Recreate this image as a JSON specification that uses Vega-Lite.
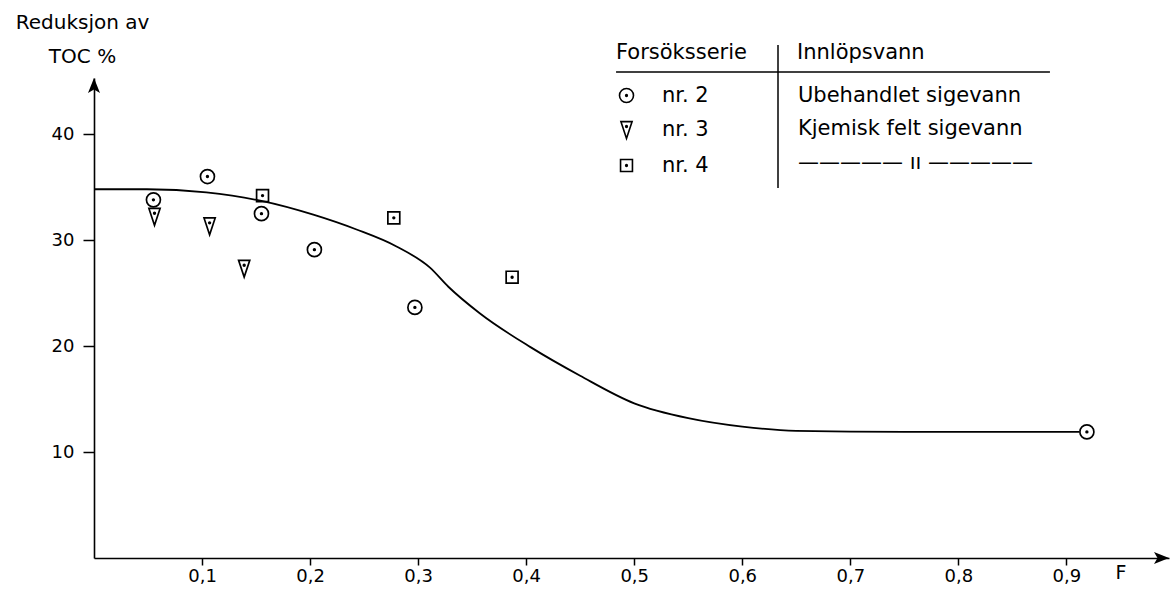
{
  "$schema": "https://vega.github.io/schema/vega-lite/v6.json",
  "width": 1075,
  "height": 480,
  "autosize": {"type": "none"},
  "padding": {"left": 94, "top": 78, "right": 3, "bottom": 36},
  "background": "white",
  "config": {
    "view": {"stroke": null},
    "font": "DejaVu Sans",
    "axis": {
      "domainColor": "black", "domainWidth": 1.6,
      "tickColor": "black", "tickWidth": 1.5,
      "labelColor": "black", "labelFont": "DejaVu Sans", "labelFontSize": 18,
      "grid": false,
      "titleColor": "black", "titleFont": "DejaVu Sans", "titleFontWeight": "normal"
    },
    "legend": {
      "orient": "none",
      "labelFont": "DejaVu Sans", "labelFontSize": 21, "labelColor": "black", "labelLimit": 0,
      "titleFont": "DejaVu Sans", "titleFontSize": 21, "titleFontWeight": "normal", "titleColor": "black",
      "titleLimit": 0,
      "rowPadding": 11.5, "titlePadding": 22, "padding": 0
    }
  },
  "datasets": {
    "points": [
      {"F": 0.055, "TOC": 33.8, "serie": "nr. 2", "innlop": "Ubehandlet sigevann"},
      {"F": 0.105, "TOC": 36.0, "serie": "nr. 2", "innlop": "Ubehandlet sigevann"},
      {"F": 0.155, "TOC": 32.5, "serie": "nr. 2", "innlop": "Ubehandlet sigevann"},
      {"F": 0.204, "TOC": 29.1, "serie": "nr. 2", "innlop": "Ubehandlet sigevann"},
      {"F": 0.297, "TOC": 23.65, "serie": "nr. 2", "innlop": "Ubehandlet sigevann"},
      {"F": 0.919, "TOC": 11.9, "serie": "nr. 2", "innlop": "Ubehandlet sigevann"},
      {"F": 0.056, "TOC": 32.2, "serie": "nr. 3", "innlop": "Kjemisk felt sigevann"},
      {"F": 0.107, "TOC": 31.3, "serie": "nr. 3", "innlop": "Kjemisk felt sigevann"},
      {"F": 0.139, "TOC": 27.3, "serie": "nr. 3", "innlop": "Kjemisk felt sigevann"},
      {"F": 0.156, "TOC": 34.2, "serie": "nr. 4", "innlop": "ditto"},
      {"F": 0.2775, "TOC": 32.1, "serie": "nr. 4", "innlop": "ditto"},
      {"F": 0.387, "TOC": 26.5, "serie": "nr. 4", "innlop": "ditto"}
    ],
    "curve": [
      {"F": 0.0, "TOC": 34.8},
      {"F": 0.049, "TOC": 34.8},
      {"F": 0.104, "TOC": 34.5},
      {"F": 0.155, "TOC": 33.7},
      {"F": 0.203, "TOC": 32.4},
      {"F": 0.243, "TOC": 31.0},
      {"F": 0.28, "TOC": 29.4},
      {"F": 0.311, "TOC": 27.4},
      {"F": 0.328, "TOC": 25.6},
      {"F": 0.357, "TOC": 23.1},
      {"F": 0.404, "TOC": 19.9},
      {"F": 0.45, "TOC": 17.2},
      {"F": 0.5, "TOC": 14.6},
      {"F": 0.55, "TOC": 13.2},
      {"F": 0.6, "TOC": 12.4},
      {"F": 0.65, "TOC": 12.0},
      {"F": 0.75, "TOC": 11.9},
      {"F": 0.912, "TOC": 11.9}
    ]
  },
  "layer": [
    {
      "data": {"name": "curve"},
      "mark": {"type": "line", "interpolate": "monotone", "color": "black", "strokeWidth": 1.8},
      "encoding": {
        "x": {
          "field": "F", "type": "quantitative",
          "scale": {"domain": [0, 0.995], "nice": false, "zero": false},
          "axis": {
            "values": [0.1, 0.2, 0.3, 0.4, 0.5, 0.6, 0.7, 0.8, 0.9],
            "labelExpr": "replace(format(datum.value, '.1f'), '.', ',')",
            "tickSize": 7, "labelPadding": 2, "labelFontSize": 18,
            "title": "F", "titleFontSize": 19, "titleX": 1021, "titleY": 5,
            "titleAlign": "left", "titleBaseline": "top"
          }
        },
        "y": {
          "field": "TOC", "type": "quantitative",
          "scale": {"domain": [0, 45.3], "nice": false},
          "axis": {
            "values": [10, 20, 30, 40],
            "tickSize": 11, "labelPadding": 9,
            "title": ["Reduksjon av", "TOC %"], "titleAngle": 0, "titleFontSize": 20,
            "titleAlign": "center", "titleBaseline": "alphabetic",
            "titleX": -12, "titleY": -50, "titleLineHeight": 34
          }
        }
      }
    },
    {
      "data": {"name": "points"},
      "mark": {"type": "point", "filled": false, "strokeWidth": 1.7, "opacity": 1, "size": 196},
      "encoding": {
        "x": {"field": "F", "type": "quantitative"},
        "y": {"field": "TOC", "type": "quantitative"},
        "shape": {
          "field": "serie", "type": "nominal",
          "scale": {
            "domain": ["nr. 2", "nr. 3", "nr. 4"],
            "range": [
              "M-1,0A1,1,0,1,1,1,0A1,1,0,1,1,-1,0ZM-0.12,0A0.12,0.12,0,1,1,0.12,0A0.12,0.12,0,1,1,-0.12,0Z",
              "M-0.8,-1.2L0.8,-1.2L0,1.2ZM-0.12,-0.5A0.12,0.12,0,1,1,0.12,-0.5A0.12,0.12,0,1,1,-0.12,-0.5Z",
              "M-0.85,-0.85L0.85,-0.85L0.85,0.85L-0.85,0.85ZM-0.12,0A0.12,0.12,0,1,1,0.12,0A0.12,0.12,0,1,1,-0.12,0Z"
            ]
          },
          "legend": {
            "title": "Forsöksserie", "legendX": 522, "legendY": -36,
            "symbolSize": 196, "symbolStrokeWidth": 1.6, "symbolStrokeColor": "black",
            "labelOffset": 25
          }
        },
        "color": {
          "field": "innlop", "type": "nominal",
          "scale": {
            "domain": ["Ubehandlet sigevann", "Kjemisk felt sigevann", "ditto"],
            "range": ["black", "black", "black"]
          },
          "legend": {
            "title": "Innlöpsvann", "legendX": 703, "legendY": -36,
            "symbolSize": 0, "symbolOpacity": 0, "labelOffset": -20,
            "labelExpr": "datum.label == 'ditto' ? ' —————  ıı  —————' : datum.label"
          }
        }
      }
    },
    {
      "data": {"values": [{}]},
      "mark": {"type": "rule", "color": "black", "strokeWidth": 1.5},
      "encoding": {
        "x": {"datum": 0.4832, "type": "quantitative"},
        "x2": {"datum": 0.8848},
        "y": {"datum": 45.87, "type": "quantitative"}
      }
    },
    {
      "data": {"values": [{}]},
      "mark": {"type": "rule", "color": "black", "strokeWidth": 1.5},
      "encoding": {
        "x": {"datum": 0.6331, "type": "quantitative"},
        "y": {"datum": 48.41, "type": "quantitative"},
        "y2": {"datum": 34.92}
      }
    },
    {
      "data": {"values": [{}]},
      "mark": {"type": "point", "filled": true, "color": "black", "opacity": 1, "size": 100,
               "shape": "M0,0L1.2,3L0,2.3L-1.2,3Z"},
      "encoding": {
        "x": {"datum": 0, "type": "quantitative"},
        "y": {"datum": 45.3, "type": "quantitative"}
      }
    },
    {
      "data": {"values": [{}]},
      "mark": {"type": "point", "filled": true, "color": "black", "opacity": 1, "size": 100,
               "shape": "M0,0L-3,-1.2L-2.3,0L-3,1.2Z"},
      "encoding": {
        "x": {"datum": 0.995, "type": "quantitative"},
        "y": {"datum": 0, "type": "quantitative"}
      }
    }
  ]
}
